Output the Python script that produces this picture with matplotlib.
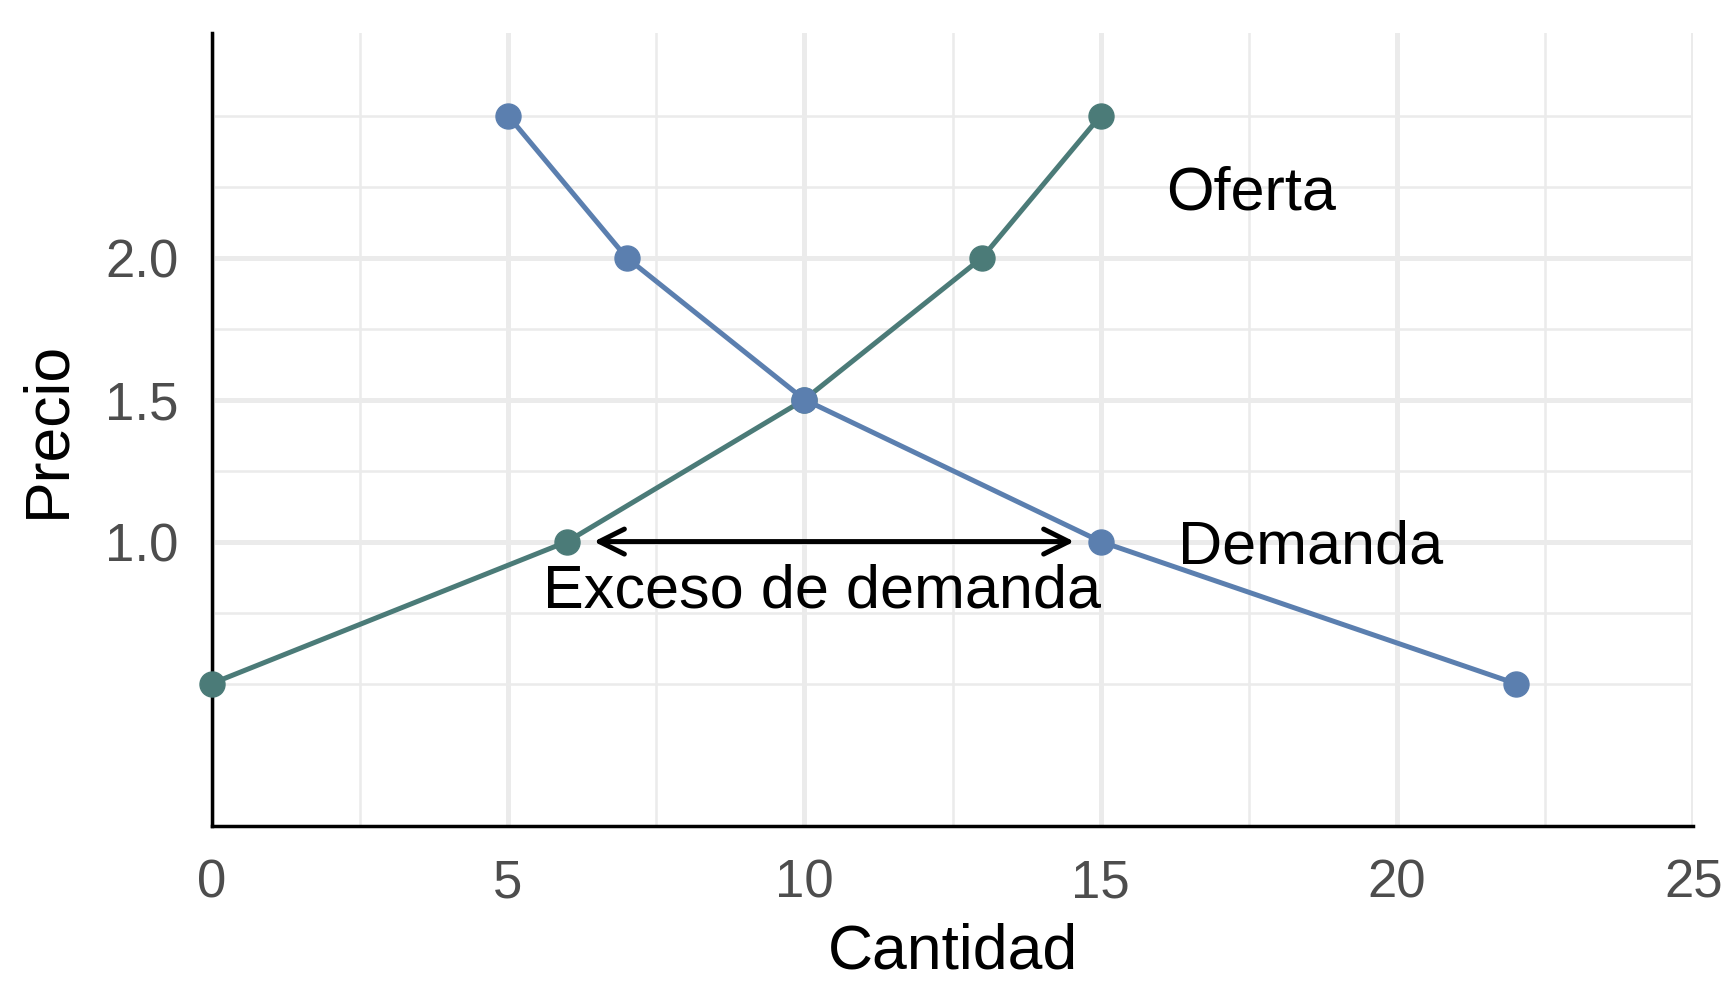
import matplotlib
matplotlib.use('Agg')
import matplotlib.pyplot as plt

# datos de oferta y demanda
demanda_q = [5, 7, 10, 15, 22]
demanda_p = [2.5, 2.0, 1.5, 1.0, 0.5]
oferta_q = [0, 6, 10, 13, 15]
oferta_p = [0.5, 1.0, 1.5, 2.0, 2.5]

y_ticks = [1.0, 1.5, 2.0]
y_minor = [0.5, 0.75, 1.25, 1.75, 2.25, 2.5]
x_ticks = [0, 5, 10, 15, 20, 25]
x_minor = [2.5, 7.5, 12.5, 17.5, 22.5]

color_demanda = '#5B7FAF'
color_oferta = '#4B7B78'

plt.rcParams['font.family'] = ['Liberation Sans', 'DejaVu Sans']

fig = plt.figure(figsize=(17.28, 10.08), dpi=100)
ax = fig.add_axes([0.1225, 0.181, 0.8575, 0.786])

# grid estilo ggplot
for v in x_ticks:
    ax.axvline(v, color='#EBEBEB', lw=3.6, zorder=0)
for v in x_minor:
    ax.axvline(v, color='#EBEBEB', lw=1.8, zorder=0)
for v in y_ticks:
    ax.axhline(v, color='#EBEBEB', lw=3.6, zorder=0)
for v in y_minor:
    ax.axhline(v, color='#EBEBEB', lw=1.8, zorder=0)

ax.plot(oferta_q, oferta_p, color=color_oferta, lw=3.6, marker='o', ms=18, zorder=3, clip_on=False)
ax.plot(demanda_q, demanda_p, color=color_demanda, lw=3.6, marker='o', ms=18, zorder=3, clip_on=False)

ax.annotate('', xy=(6.4, 1.0), xytext=(14.6, 1.0),
            arrowprops=dict(arrowstyle='<->', color='black', lw=3.6, mutation_scale=45), zorder=4)

ax.text(16.1, 2.225, 'Oferta', fontsize=44, ha='left', va='center')
ax.text(16.3, 0.978, 'Demanda', fontsize=44, ha='left', va='center')
ax.text(10.3, 0.823, 'Exceso de demanda', fontsize=44, ha='center', va='center')

ax.set_xlim(0, 25)
ax.set_ylim(0, 2.79)
ax.set_xticks(x_ticks)
ax.set_yticks(y_ticks)
ax.set_yticklabels(['1.0', '1.5', '2.0'])
ax.tick_params(axis='both', length=0, labelsize=38, labelcolor='#4D4D4D', pad=24)

ax.set_xlabel('Cantidad', fontsize=45, labelpad=10)
ax.set_ylabel('Precio', fontsize=45, labelpad=20)

for s in ['top', 'right']:
    ax.spines[s].set_visible(False)
for s in ['left', 'bottom']:
    ax.spines[s].set_linewidth(2.5)
    ax.spines[s].set_color('black')

fig.savefig('out.png', dpi=100)
